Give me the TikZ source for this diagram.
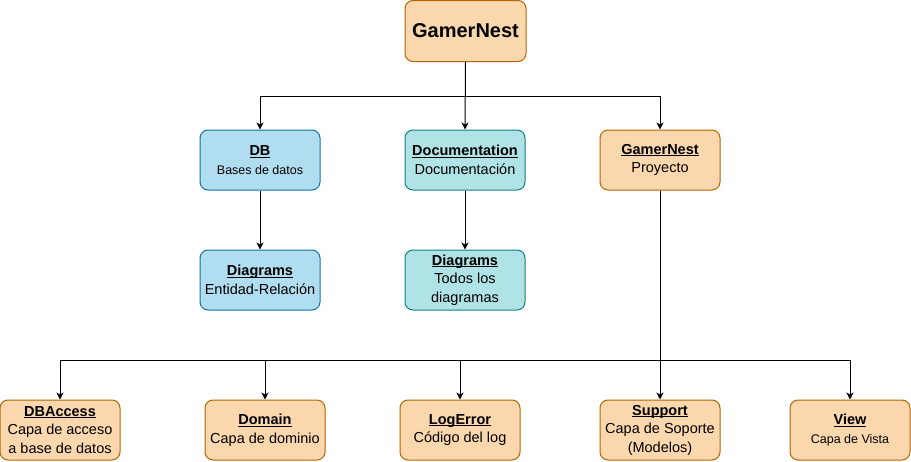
\documentclass[tikz,border=0pt]{standalone}
\usepackage{fontspec}
\setmainfont{Liberation Sans}
\usetikzlibrary{arrows.meta}
\definecolor{orfill}{HTML}{FAD7AC}
\definecolor{ordraw}{HTML}{B46504}
\definecolor{blfill}{HTML}{B1DDF0}
\definecolor{bldraw}{HTML}{10739E}
\definecolor{tlfill}{HTML}{B0E3E6}
\definecolor{tldraw}{HTML}{0E8088}
\newcommand{\ttl}[1]{{\fontsize{14.5}{18.5}\selectfont\bfseries\setbox0\hbox{#1}\rlap{\rule[-2pt]{\wd0}{1pt}}\box0}}
\newcommand{\fsA}{\fontsize{12.5}{18.5}\selectfont}
\newcommand{\fsB}{\fontsize{14.5}{18.5}\selectfont}
\tikzset{
  box/.style={draw, rounded corners=8pt, minimum width=120pt, minimum height=60pt, line width=1pt, align=center, inner sep=0pt, font=\fsB},
  orbox/.style={box, fill=orfill, draw=ordraw},
  blbox/.style={box, fill=blfill, draw=bldraw},
  tlbox/.style={box, fill=tlfill, draw=tldraw},
  arr/.style={draw=black, line width=1pt, -{Stealth[length=7pt,width=7pt,inset=2pt]}}
}
\begin{document}
\begin{tikzpicture}[x=1pt,y=-1pt]
\useasboundingbox (0,0) rectangle (911,461);
\node[orbox, minimum width=121pt, minimum height=61pt, font=\fontsize{20}{24}\selectfont\bfseries] (root) at (465.5,31) {GamerNest};
\node[blbox, font=\fsA] (db) at (260,160) {\ttl{DB}\\Bases de datos};
\node[tlbox] (doc) at (465,160) {\ttl{Documentation}\\Documentación};
\node[orbox] (gn) at (660,160) {\ttl{GamerNest}\\Proyecto};
\node[blbox] (dbd) at (260,280) {\ttl{Diagrams}\\Entidad-Relación};
\node[tlbox] (docd) at (465,280) {\ttl{Diagrams}\\Todos los\\diagramas};
\node[orbox] (dba) at (60,430) {\ttl{DBAccess}\\Capa de acceso\\a base de datos};
\node[orbox] (dom) at (265,430) {\ttl{Domain}\\Capa de dominio};
\node[orbox] (log) at (460,430) {\ttl{LogError}\\Código del log};
\node[orbox] (sup) at (660,430) {\ttl{Support}\\Capa de Soporte\\(Modelos)};
\node[orbox, font=\fsA] (view) at (850,430) {\ttl{View}\\Capa de Vista};
\draw[arr] (root.south) -- (doc.north);
\draw[arr] (root.south) -- ++(0,34.5) -| (db.north);
\draw[arr] (root.south) -- ++(0,34.5) -| (gn.north);
\draw[arr] (db.south) -- (dbd.north);
\draw[arr] (doc.south) -- (docd.north);
\draw[arr] (gn.south) -- (sup.north);
\draw[arr] (gn.south) -- ++(0,170) -| (dba.north);
\draw[arr] (gn.south) -- ++(0,170) -| (dom.north);
\draw[arr] (gn.south) -- ++(0,170) -| (log.north);
\draw[arr] (gn.south) -- ++(0,170) -| (view.north);
\end{tikzpicture}
\end{document}
